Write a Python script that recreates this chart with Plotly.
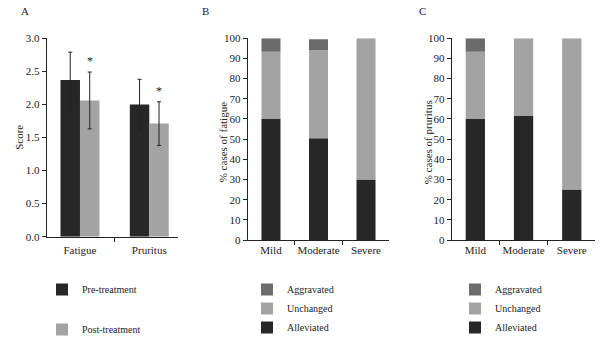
import plotly.graph_objects as go
import numpy as np

# Panel A data
symptoms = ["Fatigue", "Pruritus"]
pre_scores = [2.37, 2.00]
pre_err = [0.42, 0.38]
post_scores = [2.06, 1.71]
post_err = [0.43, 0.33]

# Panel B / C data
severity = ["Mild", "Moderate", "Severe"]
fat_alleviated = [60.0, 50.5, 30.0]
fat_unchanged = [33.3, 43.7, 70.0]
fat_aggravated = [6.7, 5.3, 0.0]
pru_alleviated = [60.0, 61.5, 25.0]
pru_unchanged = [33.3, 38.5, 75.0]
pru_aggravated = [6.7, 0.0, 0.0]

DARK = "#272727"
LIGHT = "#a3a3a3"
MID = "#6b6b6b"
FONT = "Liberation Serif"
W, H = 600, 338

fig = go.Figure()

bw_a = 0.281
fig.add_trace(go.Bar(x=symptoms, y=pre_scores, name="Pre-treatment", marker_color=DARK,
                     marker_line_width=0, width=bw_a, offset=-bw_a,
                     error_y=dict(type="data", array=pre_err, color="#222", thickness=1, width=2),
                     xaxis="x", yaxis="y", legend="legend", legendgroup="pre"))
fig.add_trace(go.Bar(x=symptoms, y=post_scores, name="Post-treatment", marker_color=LIGHT,
                     marker_line_width=0, width=bw_a, offset=0,
                     error_y=dict(type="data", array=post_err, color="#222", thickness=1, width=2),
                     xaxis="x", yaxis="y", legend="legend", legendgroup="post"))

def stacked(xa, ya, leg, alle, unch, aggr):
    base_u = [a for a in alle]
    base_g = [a + u for a, u in zip(alle, unch)]
    bw = 0.4
    fig.add_trace(go.Bar(x=severity, y=alle, name="Alleviated", marker_color=DARK, marker_line_width=0,
                         width=bw, xaxis=xa, yaxis=ya, legend=leg))
    fig.add_trace(go.Bar(x=severity, y=unch, base=base_u, name="Unchanged", marker_color=LIGHT,
                         marker_line_width=0, width=bw, xaxis=xa, yaxis=ya, legend=leg))
    fig.add_trace(go.Bar(x=severity, y=aggr, base=base_g, name="Aggravated", marker_color=MID,
                         marker_line_width=0, width=bw, xaxis=xa, yaxis=ya, legend=leg))

stacked("x2", "y2", "legend2", fat_alleviated, fat_unchanged, fat_aggravated)
stacked("x3", "y3", "legend3", pru_alleviated, pru_unchanged, pru_aggravated)

# significance asterisks
for s, v, e in zip(symptoms, post_scores, post_err):
    fig.add_annotation(x=s, y=v + e, xref="x", yref="y", text="*", showarrow=False,
                       xshift=9.75, yshift=2, yanchor="bottom",
                       font=dict(family=FONT, size=12, color="#222222"))

tickfont = dict(family=FONT, size=11, color="#222")
xcommon = dict(type="category", showline=True, linecolor="#222", linewidth=1, ticks="outside",
               tickson="boundaries", ticklen=4, tickcolor="#222", tickfont=tickfont, tickangle=0,
               showgrid=False, zeroline=False, fixedrange=True, automargin=False)
ycommon = dict(showline=True, linecolor="#222", linewidth=1, ticks="outside", ticklen=4,
               tickcolor="#222", tickfont=tickfont, showgrid=False, zeroline=False, automargin=False)

def px(v):
    return v / W

def py(v):
    return 1 - v / H

legfont = dict(family=FONT, size=10, color="#222")
fig.update_layout(
    width=W, height=H, margin=dict(l=0, r=0, t=0, b=0, autoexpand=False),
    paper_bgcolor="white", plot_bgcolor="white", barmode="overlay",
    font=dict(family=FONT, size=11, color="#222"),
    xaxis=dict(xcommon, domain=[px(46.7), px(177.7)], range=[-0.48, 1.41], anchor="y",
               ticklabelstandoff=3),
    yaxis=dict(ycommon, domain=[py(236.7), py(38.3)], range=[0, 3.0], dtick=0.5,
               tickformat=".1f", anchor="x"),
    xaxis2=dict(xcommon, domain=[px(247.7), px(389.3)], range=[-0.49, 2.49], anchor="y2"),
    yaxis2=dict(ycommon, domain=[py(240), py(38.3)], range=[0, 100], dtick=10, anchor="x2"),
    xaxis3=dict(xcommon, domain=[px(451.7), px(595.4)], range=[-0.49, 2.49], anchor="y3"),
    yaxis3=dict(ycommon, domain=[py(240), py(38.3)], range=[0, 100], dtick=10, anchor="x3"),
    legend=dict(x=px(42), y=py(275), xanchor="left", yanchor="top", tracegroupgap=21,
                font=legfont, bgcolor="rgba(0,0,0,0)", traceorder="grouped"),
    legend2=dict(x=px(247), y=py(275), xanchor="left", yanchor="top", traceorder="reversed",
                 font=legfont, bgcolor="rgba(0,0,0,0)"),
    legend3=dict(x=px(455), y=py(275), xanchor="left", yanchor="top", traceorder="reversed",
                 font=legfont, bgcolor="rgba(0,0,0,0)"),
    showlegend=True,
)

# panel letters and axis titles
for txt, x in [("A", 25), ("B", 205), ("C", 422.7)]:
    fig.add_annotation(x=px(x), y=py(11), xref="paper", yref="paper", text=txt, showarrow=False,
                       xanchor="center", yanchor="middle",
                       font=dict(family=FONT, size=11, color="#222"))
for txt, x, yc in [("Score", 18.3, 137.5), ("% cases of fatigue", 223.3, 142),
                   ("% cases of pruritus", 428.3, 142)]:
    fig.add_annotation(x=px(x), y=py(yc), xref="paper", yref="paper", text=txt, showarrow=False,
                       textangle=-90, xanchor="center", yanchor="middle",
                       font=dict(family=FONT, size=11, color="#222"))

fig.write_html("out.html")
